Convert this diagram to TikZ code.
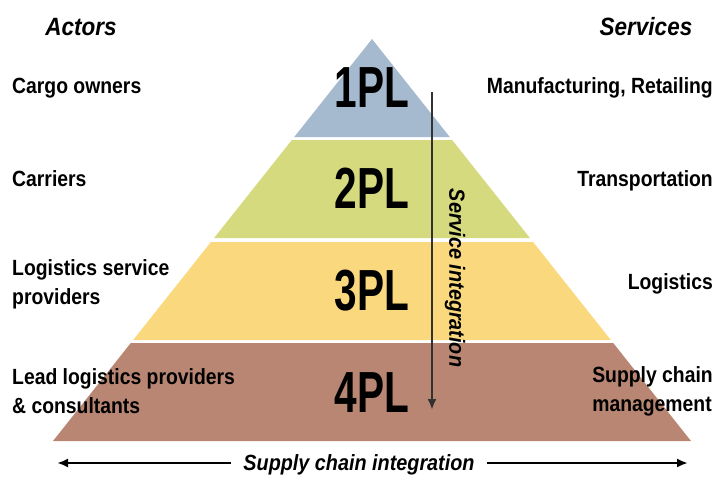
\documentclass[tikz,border=0pt]{standalone}
\usepackage{fontspec}
\setmainfont{Liberation Sans}[FakeStretch=0.88]
\newfontfamily\plfont{Liberation Sans}[FakeStretch=0.7]
\newfontfamily\capfont{Liberation Sans}[FakeStretch=0.9]
\usetikzlibrary{arrows.meta}
\definecolor{plblue}{RGB}{165,186,206}
\definecolor{plgreen}{RGB}{212,218,125}
\definecolor{plyellow}{RGB}{250,216,125}
\definecolor{plbrown}{RGB}{184,134,114}
\definecolor{arrowgray}{RGB}{50,50,50}

\begin{document}
\begin{tikzpicture}[x=1pt,y=-1pt,
  lbl/.style={font=\fontsize{22}{29}\selectfont\bfseries, inner sep=0pt, align=left},
  pl/.style={font=\plfont\fontsize{58}{60}\selectfont\bfseries, inner sep=0pt},
  capl/.style={font=\capfont\fontsize{22}{26}\selectfont\bfseries\itshape, inner sep=0pt},
  arr/.style={line width=2.4pt, arrowgray, -{Latex[length=11pt,width=9pt]}}]
\newcommand{\apex}{372}
\newcommand{\slope}{0.7935}
\useasboundingbox (0,0) rectangle (718,477);
% pyramid bands
\foreach \ya/\yb/\col in {39/137/plblue,140/238/plgreen,242/340/plyellow,343/441/plbrown}
  {
    \fill[color=\col] ({\apex-\slope*(\ya-39)},\ya) -- ({\apex+\slope*(\ya-39)},\ya)
      -- ({\apex+\slope*(\yb-39)},\yb) -- ({\apex-\slope*(\yb-39)},\yb) -- cycle;
  }
\foreach \n/\y in {1/107,2/208,3/310,4/412}
  {
    \node[pl, anchor=base] (pl\n) at (\apex,\y) {\n PL};
  }
% headings
\node[capl, font=\capfont\fontsize{25}{28}\selectfont\bfseries\itshape, anchor=base] (actors) at (81,35) {Actors};
\node[capl, font=\capfont\fontsize{25}{28}\selectfont\bfseries\itshape, anchor=base] (services) at (646,35) {Services};
% actors (base = last line)
\node[lbl, anchor=base west] (cargo) at (12,93) {Cargo owners};
\node[lbl, anchor=base west] (carriers) at (12,186) {Carriers};
\node[lbl, anchor=base west] (lsp) at (12,304) {Logistics service\\providers};
\node[lbl, anchor=base west] (llp) at (12,413) {Lead logistics providers\\\& consultants};
% services
\node[lbl, anchor=base east] (manuf) at (713,93) {Manufacturing, Retailing};
\node[lbl, anchor=base east] (transp) at (713,186) {Transportation};
\node[lbl, anchor=base east] (logist) at (713,289) {Logistics};
\node[lbl, anchor=base east] (scm) at (713,411) {Supply chain\\management};
% service integration
\coordinate (vtop) at (432,92);
\coordinate (vbot) at (432,410);
\draw[arr] (vtop) -- (vbot);
\node[capl, rotate=-90] (servint) at (455,278) {Service integration};
% supply chain integration
\coordinate (sl) at (57,463);
\coordinate (sr) at (688,463);
\node[capl, anchor=base, inner xsep=12pt] (scint) at (359,470) {Supply chain integration};
\draw[arr, black] (sl -| scint.west) -- (sl);
\draw[arr, black] (sr -| scint.east) -- (sr);
\end{tikzpicture}
\end{document}
